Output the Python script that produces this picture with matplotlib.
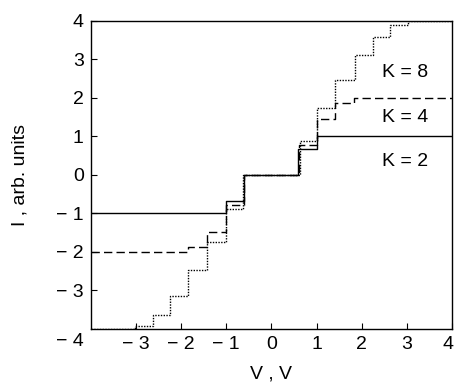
import matplotlib
matplotlib.use("Agg")
import matplotlib.pyplot as plt
from matplotlib.transforms import ScaledTranslation

# staircase I-V curves (drawn with steps-post)
v_k2 = [-4, -1.0, -0.6, 0.6, 1.0, 4]
i_k2 = [-1.0, -0.67, 0.0, 0.67, 1.0, 1.0]

v_k4 = [-4, -1.85, -1.42, -1.0, -0.61, 0.61, 1.0, 1.41, 1.83, 4]
i_k4 = [-2.0, -1.88, -1.47, -0.78, 0.0, 0.78, 1.46, 1.86, 1.99, 1.99]

v_k8 = [-4, -3.02, -2.63, -2.25, -1.85, -1.43, -1.0, -0.63,
        0.63, 1.0, 1.41, 1.85, 2.26, 2.63, 3.03, 4]
i_k8 = [-4.0, -3.92, -3.63, -3.15, -2.48, -1.75, -0.88, 0.0,
        0.88, 1.74, 2.46, 3.12, 3.58, 3.88, 4.0, 4.0]

labels = ["K = 8", "K = 4", "K = 2"]
label_y = [2.66, 1.5, 0.34]

x_ticks = [-3, -2, -1, 0, 1, 2, 3, 4]
y_ticks = [-3, -2, -1, 0, 1, 2, 3, 4]


def tick_text(v):
    return "\u2212 %d" % abs(v) if v < 0 else "%d" % v


plt.rcParams["font.family"] = ["Liberation Sans", "DejaVu Sans"]

fig = plt.figure(figsize=(4.54, 3.85), dpi=100)
ax = fig.add_axes([0.2, 0.1455, 0.7956, 0.8005])

ax.step(v_k2, i_k2, where="post", color="black", lw=1.0, ls="-")
ax.step(v_k4, i_k4, where="post", color="black", lw=1.0, ls=(0, (6, 3)))
ax.step(v_k8, i_k8, where="post", color="black", lw=1.0, ls=(0, (1, 1)))

for t, y in zip(labels, label_y):
    ax.text(2.96, y, t, ha="center", va="center", fontsize=14)

ax.set_xlim(-4, 4)
ax.set_ylim(-4, 4)
ax.set_xticks(x_ticks)
ax.set_xticklabels([tick_text(v) for v in x_ticks], fontsize=14)
ax.set_yticks(y_ticks)
ax.set_yticklabels([tick_text(v) for v in y_ticks], fontsize=14)
ax.tick_params(direction="in", length=4, width=0.8, pad=5)

# keep the last x label inside the picture
last = ax.get_xticklabels()[-1]
last.set_transform(last.get_transform() + ScaledTranslation(-0.04, 0, fig.dpi_scale_trans))

# corner label for -4
off = ScaledTranslation(-0.07, -0.04, fig.dpi_scale_trans)
ax.text(-4, -4, "\u2212 4", ha="right", va="top", fontsize=14,
        transform=ax.transData + off, clip_on=False)

for s in ax.spines.values():
    s.set_linewidth(1.0)

ax.set_xlabel("V , V", fontsize=14, labelpad=9)
ax.set_ylabel("I , arb. units", fontsize=14, labelpad=20)

fig.savefig("out.png", dpi=100)
